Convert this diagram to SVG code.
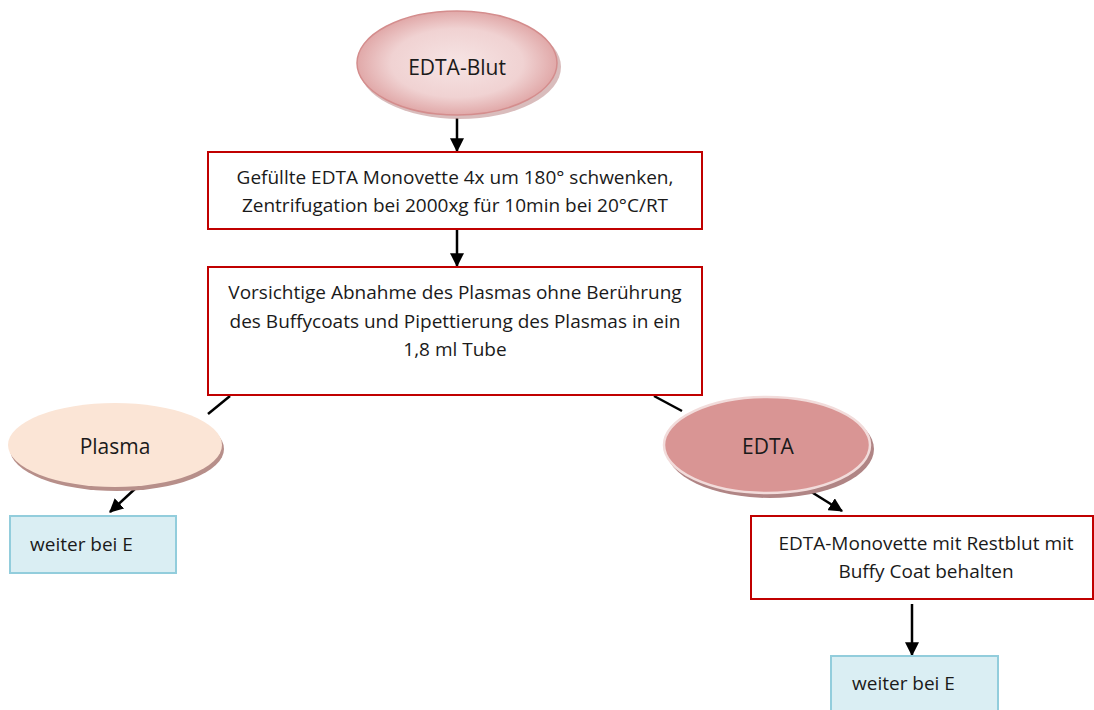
<svg xmlns="http://www.w3.org/2000/svg" width="1094" height="710" viewBox="0 0 1094 710">
<defs>
<radialGradient id="gBlut" cx="0.5" cy="0.5" r="0.55">
<stop offset="0" stop-color="#f6e4e4"/>
<stop offset="0.6" stop-color="#f0d2d2"/>
<stop offset="1" stop-color="#dc9c9c"/>
</radialGradient>
<marker id="ah" viewBox="0 0 12 12" refX="11" refY="6" markerWidth="14" markerHeight="14" orient="auto" markerUnits="userSpaceOnUse">
<path d="M0,0 L12,6 L0,12 z" fill="#000"/>
</marker>
</defs>
<style>
text{font-family:"Open Sans","Liberation Sans",sans-serif;fill:#1a1a1a;}
.t{font-size:19px;text-anchor:middle;}
.e{font-size:21px;text-anchor:middle;}
.box{fill:#fff;stroke:#c00000;stroke-width:2;}
.blue{fill:#daeef3;stroke:#92cddc;stroke-width:2;}
.c{stroke:#000;stroke-width:2.5;fill:none;}
</style>
<rect width="1094" height="710" fill="#fff"/>
<g id="connectors">
<line class="c" x1="457" y1="118" x2="457" y2="151" marker-end="url(#ah)"/>
<line class="c" x1="457" y1="229" x2="457" y2="266" marker-end="url(#ah)"/>
<line class="c" x1="230" y1="396" x2="208" y2="414"/>
<line class="c" x1="654" y1="396" x2="682" y2="411"/>
<line class="c" x1="137" y1="487" x2="110" y2="512" marker-end="url(#ah)"/>
<line class="c" x1="805" y1="488" x2="842" y2="511" marker-end="url(#ah)"/>
<line class="c" x1="912" y1="604" x2="912" y2="655" marker-end="url(#ah)"/>
</g>
<g id="n-blut">
<ellipse cx="460" cy="67" rx="101" ry="52" fill="#c9a0a0" opacity="0.7"/>
<ellipse cx="457" cy="63" rx="100" ry="52" fill="url(#gBlut)" stroke="#d48d8d" stroke-width="1.5"/>
<text class="e" x="457" y="75">EDTA-Blut</text>
</g>
<g id="n-step1">
<rect class="box" x="208" y="152" width="494" height="77"/>
<text class="t" x="455" y="184">Gefüllte EDTA Monovette 4x um 180° schwenken,</text>
<text class="t" x="455" y="212">Zentrifugation bei 2000xg für 10min bei 20°C/RT</text>
</g>
<g id="n-step2">
<rect class="box" x="208" y="267" width="494" height="128"/>
<text class="t" x="455" y="299">Vorsichtige Abnahme des Plasmas ohne Berührung</text>
<text class="t" x="455" y="328">des Buffycoats und Pipettierung des Plasmas in ein</text>
<text class="t" x="455" y="356">1,8 ml Tube</text>
</g>
<g id="n-plasma">
<ellipse cx="117" cy="449" rx="107" ry="42" fill="#b78f8a"/>
<ellipse cx="115" cy="445" rx="107" ry="42" fill="#fbe5d6"/>
<text class="e" x="115" y="454">Plasma</text>
</g>
<g id="n-edta">
<ellipse cx="770" cy="449" rx="104" ry="49" fill="#b08585"/>
<ellipse cx="767" cy="445" rx="103" ry="48" fill="#d99594" stroke="#f2dcdb" stroke-width="2.5"/>
<text class="e" x="768" y="454">EDTA</text>
</g>
<g id="n-weiter1">
<rect class="blue" x="10" y="516" width="166" height="57"/>
<text class="t" x="30" y="551" style="text-anchor:start">weiter bei E</text>
</g>
<g id="n-rest">
<rect class="box" x="751" y="516" width="342" height="83"/>
<text class="t" x="926" y="550">EDTA-Monovette mit Restblut mit</text>
<text class="t" x="926" y="578">Buffy Coat behalten</text>
</g>
<g id="n-weiter2">
<rect class="blue" x="831" y="656" width="167" height="60"/>
<text class="t" x="852" y="690" style="text-anchor:start">weiter bei E</text>
</g>
</svg>
